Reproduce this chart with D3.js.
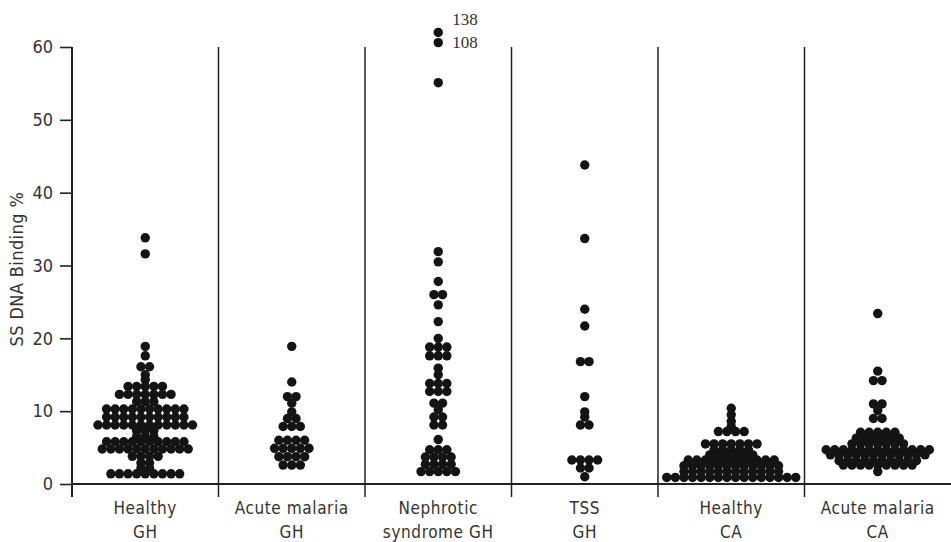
<!DOCTYPE html>
<html>
<head>
<meta charset="utf-8">
<script src="https://cdn.jsdelivr.net/npm/d3@7"></script>
<style>
  body { margin: 0; background: #fff; }
  svg text { font-family: "Liberation Sans Narrow", "DejaVu Sans Condensed", sans-serif; fill: #333; }
</style>
</head>
<body>
<svg id="chart" width="951" height="542"></svg>
<script>
// group labels (two lines each)
const categories = ["Healthy GH", "Acute malaria GH", "Nephrotic syndrome GH", "TSS GH", "Healthy CA", "Acute malaria CA"];
const labelLines = [["Healthy", "GH"], ["Acute malaria", "GH"], ["Nephrotic", "syndrome GH"], ["TSS", "GH"], ["Healthy", "CA"], ["Acute malaria", "CA"]];
const yTicks = [0, 10, 20, 30, 40, 50, 60];

// each row = [SS DNA binding %, number of subjects at that value]
const healthyGH = [[33.8,1],[31.6,1],[18.9,1],[17.6,1],[16.1,2],[15.0,1],[14.3,1],[13.4,5],[12.3,7],[11.3,3],
  [10.3,10],[9.2,10],[8.1,12],[7.3,3],[6.5,3],[5.8,10],[4.8,11],[3.8,4],[2.9,2],[2.2,2],[1.4,9]];
const acuteGH = [[18.9,1],[14.0,1],[12.0,2],[11.1,1],[9.9,1],[9.0,2],[7.9,3],[6.0,4],[4.9,5],[3.75,4],[2.6,3]];
const nephroticGH = [[55.1,1],[31.9,1],[30.5,1],[27.8,1],[26.0,2],[24.6,1],[22.3,1],[20.0,1],[18.8,3],[17.6,3],
  [15.9,1],[15.0,1],[13.8,3],[12.7,3],[11.1,2],[10.2,1],[9.2,2],[8.1,2],[6.1,1],[4.7,3],[3.7,4],[2.7,4],[1.7,5]];
const tssGH = [[43.8,1],[33.7,1],[24.0,1],[21.7,1],[16.8,2],[12.0,1],[9.9,1],[9.2,1],[8.1,2],[3.3,4],[2.2,2],[1.0,1]];
const healthyCA = [[10.4,1],[9.5,1],[8.6,1],[7.9,1],[7.2,4],[5.5,7],[4.7,5],[4.0,6],[3.3,11],[2.5,12],[1.7,12],[0.9,16]];
const acuteCA = [[23.4,1],[15.5,1],[14.2,2],[11.0,2],[10.1,1],[9.0,2],[7.1,5],[6.3,6],[5.5,7],[4.7,13],[4.0,12],[3.2,10],[2.6,9],[1.7,1]];
const groups = [healthyGH, acuteGH, nephroticGH, tssGH, healthyCA, acuteCA];

// off-scale values in nephrotic syndrome, drawn above the top of the axis
const outlierValues = [138, 108];
const outlierPlotAt = [62.0, 60.6];

const svg = d3.select("#chart");
const x = d3.scaleBand().domain(categories).range([72, 951]);
const y = d3.scaleLinear().domain([0, 60]).range([484, 47]);
const r = 4.7, step = 8.6;

// dots
groups.forEach((rows, gi) => {
    let cx = x(categories[gi]) + x.bandwidth() / 2;
    let dots = [];
    rows.forEach(([v, n]) => {
        for (let i = 0; i < n; i++) dots.push({ v: v, dx: (i - (n - 1) / 2) * step });
    });
    svg.append("g").selectAll("circle")
        .data(dots)
        .join("circle")
        .attr("cx", d => cx + d.dx)
        .attr("cy", d => y(d.v))
        .attr("r", r)
        .attr("fill", "#141414");
});

// outliers
let nx = x(categories[2]) + x.bandwidth() / 2;
svg.append("g").selectAll("circle")
    .data(outlierPlotAt)
    .join("circle")
    .attr("cx", nx)
    .attr("cy", d => y(d))
    .attr("r", r)
    .attr("fill", "#141414");
const labelDy = [-7, 5];
svg.append("g").selectAll("text")
    .data(outlierValues)
    .join("text")
    .attr("x", nx + 14)
    .attr("y", (d, i) => y(outlierPlotAt[i]) + labelDy[i])
    .style("font-family", "'Liberation Serif', 'DejaVu Serif', serif")
    .style("font-size", "17px")
    .text(d => d);

// y axis
let yAxis = d3.axisLeft(y).tickValues(yTicks).tickSize(12).tickPadding(7);
let ga = svg.append("g").attr("transform", "translate(72,0)").call(yAxis);
ga.select(".domain").remove();
ga.selectAll("line").attr("stroke", "#222").attr("stroke-width", 1.6);
ga.selectAll("text").style("font-size", "18px").attr("fill", "#333");
svg.append("line")
    .attr("x1", 72).attr("x2", 72)
    .attr("y1", y(60)).attr("y2", y(0) + 13)
    .attr("stroke", "#222").attr("stroke-width", 2);

// x axis baseline
svg.append("line")
    .attr("x1", 72).attr("x2", 951)
    .attr("y1", y(0)).attr("y2", y(0))
    .attr("stroke", "#222").attr("stroke-width", 2);

// separators between groups
svg.append("g").selectAll("line")
    .data(categories.slice(1))
    .join("line")
    .attr("x1", d => x(d)).attr("x2", d => x(d))
    .attr("y1", y(60)).attr("y2", y(0) + 13)
    .attr("stroke", "#222").attr("stroke-width", 1.5);

// group labels
let gl = svg.append("g").selectAll("text")
    .data(labelLines)
    .join("text")
    .attr("text-anchor", "middle")
    .style("font-size", "17px")
    .style("letter-spacing", "0.6px");
gl.each(function(lines, i) {
    let cx = x(categories[i]) + x.bandwidth() / 2;
    d3.select(this).selectAll("tspan")
        .data(lines)
        .join("tspan")
        .attr("x", cx)
        .attr("y", (d, j) => 514 + j * 24)
        .text(d => d);
});

// y axis title
svg.append("text")
    .attr("transform", "translate(23," + y(29.5) + ") rotate(-90)")
    .attr("text-anchor", "middle")
    .style("font-size", "18px")
    .style("letter-spacing", "0.4px")
    .text("SS DNA Binding %");
</script>
</body>
</html>
